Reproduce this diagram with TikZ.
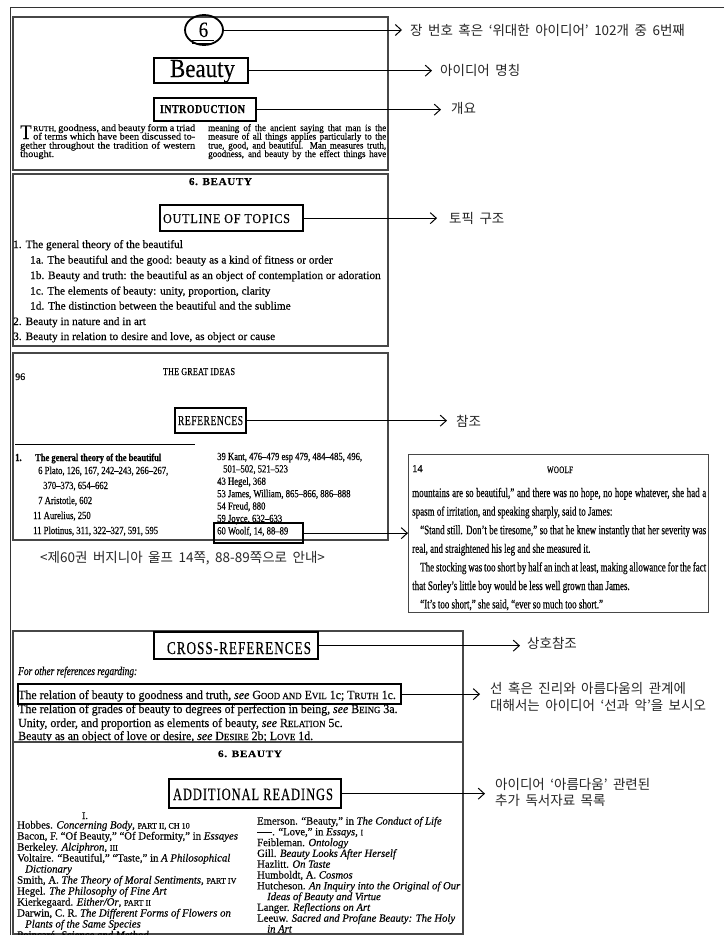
\documentclass[tikz,border=0pt]{standalone}
\usepackage{fontspec}
\usepackage{graphicx}
\setmainfont{Liberation Serif}[Ligatures=TeX,FakeBold=0.3]
\newfontfamily\kr{Noto Sans CJK KR}
\usetikzlibrary{arrows.meta,shapes.geometric,calc}
\newcommand\fs[1]{\fontsize{#1}{#1}\selectfont}
\newcommand\fsz[2]{\fontsize{#1}{#2}\selectfont}
\newcommand\ff[2]{\fontsize{#1}{#1}\selectfont\addfontfeature{FakeStretch=#2}}
\newcommand\J[2]{\makebox[#1pt][s]{#2}}
\newcommand\smc[1]{\scalebox{0.75}{#1}}
\newcommand\RB[3]{\resizebox{#1pt}{#2pt}{#3}}
\newcommand\LS[1]{\addfontfeature{LetterSpace=#1}}
\newcommand\krf{\kr\fs{13.5}\spaceskip=5.5pt\relax}
\newcommand\krfb[1]{\kr\fsz{13.5}{#1}\spaceskip=5.5pt\relax}
\begin{document}
\begin{tikzpicture}[x=1pt,y=-1pt,
 panel/.style={draw=black!72, line width=1.3pt},
 hl/.style={draw=black, line width=2.3pt, inner sep=0pt, anchor=north west},
 arr/.style={line width=0.9pt, -{Straight Barb[length=6pt,width=11pt,line width=1pt]}},
 lbl/.style={font=\krf, anchor=west, inner sep=0pt, text=black!85, align=left},
 tx/.style={inner sep=0pt, anchor=base west, text=black},
 txc/.style={inner sep=0pt, anchor=base, text=black}]
\useasboundingbox (0,0) rectangle (725,937);
\fill[white] (0,0) rectangle (725,937);
% outer frame
\draw[line width=0.9pt, black!80] (724,7) -- (10,7) -- (10,935);
% panels
\draw[panel] (13,17) rectangle (388,170);
\draw[panel] (13,174) rectangle (388,346);
\draw[panel] (13,353) rectangle (388,540);
\node[panel, anchor=north west, minimum width=300pt, minimum height=158pt, inner sep=0pt] (woolf) at (408,454) {};
\draw[panel] (13,631) rectangle (463,742);

% ---------- panel 1: chapter head
\node[draw=black, line width=1.8pt, ellipse, minimum width=38pt, minimum height=30pt, inner sep=0pt] (ch) at (204,30) {};
\node[txc] (six) at (203.5,37) {\RB{9.5}{14.5}{6}};
\draw[line width=0.7pt] (192,40.8) -- (214,40.8) (192,43) -- (214,43);
\node[hl, minimum width=94pt, minimum height=25pt] (beauty) at (153,57) {};
\node[txc] (beautyt) at (202.5,77) {\RB{65}{17}{Beauty}};
\node[hl, minimum width=102pt, minimum height=23pt] (intro) at (153,97) {};
\node[txc] (introt) at (202.5,113) {\RB{85}{8}{\bfseries\LS{4}INTRODUCTION}};
\node[tx] (dropT) at (20,139) {\RB{11.5}{13.5}{T}};
\node[tx, font=\ff{9.6}{1.07}] (i1) at (33,131) {\J{162}{\smc{RUTH,} goodness, and beauty form a triad}};
\node[tx, font=\ff{9.6}{1.07}] (i2) at (33,139.5) {\J{162}{of terms which have been discussed to-}};
\node[tx, font=\ff{9.6}{1.07}] (i3) at (20,148.5) {\J{175}{gether throughout the tradition of western}};
\node[tx, font=\ff{9.6}{1.07}] (i4) at (20,157) {thought.};
\node[tx, font=\ff{9.6}{0.94}] (i5) at (208,131) {\J{178}{meaning of the ancient saying that man is the}};
\node[tx, font=\ff{9.6}{0.94}] (i6) at (208,139.5) {\J{178}{measure of all things applies particularly to the}};
\node[tx, font=\ff{9.6}{0.94}] (i7) at (208,148.5) {\J{178}{true, good, and beautiful. Man measures truth,}};
\node[tx, font=\ff{9.6}{0.94}] (i8) at (208,157) {\J{178}{goodness, and beauty by the effect things have}};

% ---------- panel 2: outline
\node[txc] (h2) at (220.5,185) {\RB{63}{7}{\bfseries\LS{6}6. BEAUTY}};
\node[hl, minimum width=143pt, minimum height=26pt] (outline) at (159,204) {};
\node[txc] (outlinet) at (226.5,223) {\RB{127}{9}{\LS{6}OUTLINE OF TOPICS}};
\foreach \x/\y/\t [count=\i] in {
 13/248/{1.\hspace{4pt}The general theory of the beautiful},
 30/263.5/{1a. The beautiful and the good: beauty as a kind of fitness or order},
 30/279/{1b. Beauty and truth: the beautiful as an object of contemplation or adoration},
 30/294.5/{1c. The elements of beauty: unity, proportion, clarity},
 30/309.5/{1d. The distinction between the beautiful and the sublime},
 13/325/{2.\hspace{4pt}Beauty in nature and in art},
 13/340/{3.\hspace{4pt}Beauty in relation to desire and love, as object or cause}}
 {\node[tx, font=\ff{11.3}{1.0}] (ol\i) at (\x,\y) {\t};}

% ---------- panel 3: references
\node[tx, font=\fs{10}] (p96) at (15,380) {96};
\node[txc] (tgi) at (199,375) {\RB{72}{7}{\LS{4}THE GREAT IDEAS}};
\node[hl, minimum width=71pt, minimum height=25pt] (refs) at (174,407) {};
\node[txc] (refst) at (210.5,425) {\RB{65}{9}{\LS{6}REFERENCES}};
\draw[line width=0.8pt] (15,444) -- (195,444);
\node[tx, font=\ff{10.8}{0.8}\bfseries] (rl0) at (15,461) {1.};
\node[tx, font=\ff{10.6}{0.8}\bfseries] (rl1) at (35,461) {The general theory of the beautiful};
\foreach \x/\y/\t [count=\i] in {
 38/474/{6 Plato, 126, 167, 242–243, 266–267,},
 43/489/{370–373, 654–662},
 38/504/{7 Aristotle, 602},
 33/519/{11 Aurelius, 250},
 33/534/{11 Plotinus, 311, 322–327, 591, 595}}
 {\node[tx, font=\ff{10.8}{0.8}] (rla\i) at (\x,\y) {\t};}
\foreach \x/\y/\t [count=\i] in {
 217/460/{39 Kant, 476–479 esp 479, 484–485, 496,},
 223/472.4/{501–502, 521–523},
 217/484.8/{43 Hegel, 368},
 217/497.2/{53 James, William, 865–866, 886–888},
 217/509.6/{54 Freud, 880},
 217/522/{59 Joyce, 632–633},
 217/534.4/{60 Woolf, 14, 88–89}}
 {\node[tx, font=\ff{10.8}{0.8}] (rr\i) at (\x,\y) {\t};}
\node[hl, minimum width=89pt, minimum height=20pt] (wbox) at (213,522) {};
\node[lbl] (cap) at (40,558) {<제60권 버지니아 울프 14쪽, 88-89쪽으로 안내>};

% ---------- panel 4: Woolf page
\node[tx, font=\fs{10.5}] (w14) at (412,472) {14};
\node[txc] (wt) at (560,473) {\RB{26}{6.5}{\LS{4}WOOLF}};
\foreach \y/\t [count=\i] in {
 497/{\J{294}{mountains are so beautiful,” and there was no hope, no hope whatever, she had a}},
 515.6/{spasm of irritation, and speaking sharply, said to James:},
 534.2/{\J{294}{\hspace{8pt}“Stand still. Don’t be tiresome,” so that he knew instantly that her severity was}},
 552.8/{real, and straightened his leg and she measured it.},
 571.4/{\J{294}{\hspace{8pt}The stocking was too short by half an inch at least, making allowance for the fact}},
 590/{that Sorley’s little boy would be less well grown than James.},
 608.4/{\hspace{8pt}“It’s too short,” she said, “ever so much too short.”}}
 {\node[tx, font=\ff{13}{0.69}] (wl\i) at (412,\y) {\t};}

% ---------- panel 5: cross references
\node[hl, minimum width=164pt, minimum height=27pt] (xref) at (153,631) {};
\node[txc] (xreft) at (239,654) {\RB{144}{12}{\LS{8}CROSS-REFERENCES}};
\node[tx, font=\ff{12}{0.78}\itshape] (fo) at (18,675) {For other references regarding:};
\node[tx, font=\ff{12.5}{0.95}] (c1) at (18,699) {The relation of beauty to goodness and truth, \textit{see} G\smc{OOD AND} E\smc{VIL} 1c; T\smc{RUTH} 1c.};
\node[tx, font=\ff{12.5}{0.95}] (c2) at (18,713) {The relation of grades of beauty to degrees of perfection in being, \textit{see} B\smc{EING} 3a.};
\node[tx, font=\ff{12.5}{0.95}] (c3) at (18,727) {Unity, order, and proportion as elements of beauty, \textit{see} R\smc{ELATION} 5c.};
\node[tx, font=\ff{12.5}{0.95}] (c4) at (18,740) {Beauty as an object of love or desire, \textit{see} D\smc{ESIRE} 2b; L\smc{OVE} 1d.};
\node[hl, minimum width=383pt, minimum height=20pt] (rel) at (17,683) {};

% ---------- panel 6: additional readings
\draw[panel, fill=white] (13,742) rectangle (463,934);
\node[txc] (h6) at (250,757) {\RB{64}{6.5}{\bfseries\LS{6}6. BEAUTY}};
\node[hl, minimum width=172pt, minimum height=29pt] (addr) at (168,778) {};
\node[txc] (addrt) at (253,800) {\RB{160}{11.5}{\LS{8}ADDITIONAL READINGS}};
\node[txc, font=\fs{10}] (rI) at (85,819) {I.};
\begin{scope}
\clip (13,742) rectangle (463,934);
\foreach \x/\y/\t [count=\i] in {
 17/828.5/{Hobbes. \textit{Concerning Body}, \smc{PART II, CH 10}},
 17/839.5/{Bacon, F. “Of Beauty,” “Of Deformity,” in \textit{Essayes}},
 17/850.5/{Berkeley. \textit{Alciphron}, \smc{III}},
 17/861.5/{Voltaire. “Beautiful,” “Taste,” in \textit{A Philosophical}},
 25/872.5/{\textit{Dictionary}},
 17/883.5/{Smith, A. \textit{The Theory of Moral Sentiments}, \smc{PART IV}},
 17/894.5/{Hegel. \textit{The Philosophy of Fine Art}},
 17/905.5/{Kierkegaard. \textit{Either/Or}, \smc{PART II}},
 17/916.5/{Darwin, C. R. \textit{The Different Forms of Flowers on}},
 25/927.5/{\textit{Plants of the Same Species}},
 17/938.5/{Poincaré. \textit{Science and Method}}}
 {\node[tx, font=\ff{11}{0.98}] (al\i) at (\x,\y) {\t};}
\end{scope}
\foreach \x/\y/\t [count=\i] in {
 257/824.5/{Emerson. “Beauty,” in \textit{The Conduct of Life}},
 257/835.3/{\rule[3pt]{15pt}{0.6pt}. “Love,” in \textit{Essays}, \smc{I}},
 257/846.1/{Feibleman. \textit{Ontology}},
 257/856.9/{Gill. \textit{Beauty Looks After Herself}},
 257/867.7/{Hazlitt. \textit{On Taste}},
 257/878.5/{Humboldt, A. \textit{Cosmos}},
 257/889.3/{Hutcheson. \textit{An Inquiry into the Original of Our}},
 267/900.1/{\textit{Ideas of Beauty and Virtue}},
 257/910.9/{Langer. \textit{Reflections on Art}},
 257/921.7/{Leeuw. \textit{Sacred and Profane Beauty: The Holy}},
 267/932.5/{\textit{in Art}}}
 {\node[tx, font=\ff{11}{0.97}] (ar\i) at (\x,\y) {\t};}

% ---------- Korean labels
\node[lbl] (l1) at (410,30) {장 번호 혹은 ‘위대한 아이디어’ 102개 중 6번째};
\node[lbl] (l2) at (440,70) {아이디어 명칭};
\node[lbl] (l3) at (451,108) {개요};
\node[lbl] (l4) at (449,218) {토픽 구조};
\node[lbl] (l5) at (456,421) {참조};
\node[lbl] (l7) at (527,643) {상호참조};
\node[lbl, font=\krfb{17}] (l8) at (490,696.5) {선 혹은 진리와 아름다움의 관계에\\대해서는 아이디어 ‘선과 악’을 보시오};
\node[lbl, font=\krfb{16}] (l9) at (495,792.5) {아이디어 ‘아름다움’ 관련된\\추가 독서자료 목록};

% ---------- arrows
\draw[arr] (ch.east) -- ($(ch.east -| l1.west)+(-8,0)$);
\draw[arr] (beauty.east) -- ($(beauty.east -| l2.west)+(-8,0)$);
\draw[arr] (intro.east) -- ($(intro.east -| l3.west)+(-10,0)$);
\draw[arr] (outline.east) -- ($(outline.east -| l4.west)+(-12,0)$);
\draw[arr] (refs.east) -- ($(refs.east -| l5.west)+(-9,0)$);
\draw[arr] (wbox.east) -- (wbox.east -| woolf.west);
\draw[arr] (xref.east) -- ($(xref.east -| l7.west)+(-7,0)$);
\draw[arr] (rel.east) -- ($(rel.east -| l8.west)+(-10,0)$);
\draw[arr] (addr.east) -- ($(addr.east -| l9.west)+(-10,0)$);
\end{tikzpicture}
\end{document}
